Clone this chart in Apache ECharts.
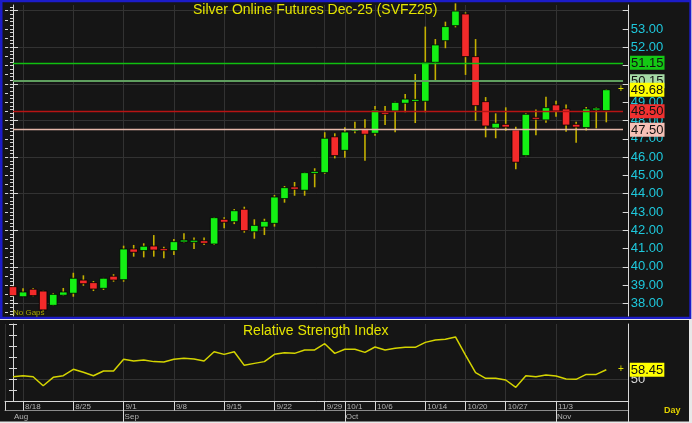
<!DOCTYPE html>
<html><head><meta charset="utf-8">
<script src="https://cdn.jsdelivr.net/npm/echarts@6/dist/echarts.min.js"></script>
<style>html,body{margin:0;padding:0;background:#e8e8e8}#c{width:692px;height:423px}</style>
</head><body><div id="c"></div>
<script>
// ---------- DATA ----------
const dates = ['8/15',
 '8/18','8/19','8/20','8/21','8/22',
 '8/25','8/26','8/27','8/28','8/29',
 '9/1','9/2','9/3','9/4','9/5',
 '9/8','9/9','9/10','9/11','9/12',
 '9/15','9/16','9/17','9/18','9/19',
 '9/22','9/23','9/24','9/25','9/26',
 '9/29','9/30','10/1','10/2','10/3',
 '10/6','10/7','10/8','10/9','10/10',
 '10/14','10/15','10/16','10/17',
 '10/20','10/21','10/22','10/23',
 '10/27','10/28','10/29','10/30','10/31',
 '11/3','11/4','11/5','11/6','11/7',
 '11/10'];
const opens  = [38.92,38.37,38.78,38.68,37.90,38.45,38.56,39.28,39.14,38.83,39.49,39.30,40.98,40.89,41.14,40.99,40.89,41.40,41.38,41.43,41.25,42.60,42.47,43.15,41.92,42.18,42.38,43.73,44.37,44.19,45.13,45.15,47.11,46.37,47.47,47.57,47.30,48.42,48.52,48.94,49.08,49.05,51.18,52.36,53.18,53.82,51.49,49.03,47.59,47.79,47.48,46.08,48.14,48.03,48.85,48.63,47.79,47.61,48.60,48.54];
const highs  = [38.95,38.83,38.85,38.70,38.56,38.85,39.68,39.54,39.23,39.40,39.60,41.16,41.20,41.29,41.74,41.10,41.52,41.84,41.60,41.60,42.73,42.71,43.16,43.29,42.60,42.63,43.93,44.42,44.64,45.18,45.39,47.36,47.30,47.63,47.93,48.07,48.79,48.79,49.02,49.45,50.54,53.13,52.45,53.40,54.40,53.91,52.45,49.28,48.39,48.72,47.66,48.39,48.60,49.30,49.08,48.88,47.93,48.74,48.72,49.72];
const lows   = [38.40,38.35,38.40,37.60,37.88,38.42,38.37,38.97,38.68,38.74,39.19,39.19,40.56,40.52,40.56,40.47,40.65,41.34,40.98,41.20,41.20,42.11,42.34,41.87,41.54,41.74,42.20,43.51,43.89,43.89,44.35,45.08,45.93,45.97,47.30,45.80,47.17,47.75,47.36,48.45,47.86,48.45,50.16,51.95,53.09,50.49,47.99,47.08,47.03,47.44,45.33,46.05,47.20,47.88,48.21,47.39,46.79,47.46,47.57,47.90];
const closes = [38.43,38.63,38.43,37.65,38.50,38.63,39.38,39.08,38.79,39.38,39.28,40.98,40.80,41.13,40.92,40.89,41.38,41.43,41.42,41.29,42.69,42.44,43.07,41.98,42.27,42.49,43.82,44.33,44.24,45.15,45.20,47.03,46.08,47.37,47.50,47.25,48.57,48.37,48.99,49.17,49.12,51.18,52.13,53.13,53.98,51.49,48.81,47.70,47.85,47.64,45.72,48.34,48.10,48.70,48.52,47.75,47.64,48.63,48.65,49.68];
const rsi    = [52.1,53.0,52.1,43.9,51.5,53.0,58.8,56.1,53.0,57.3,57.3,67.9,66.4,67.3,65.8,65.5,67.9,68.8,68.2,66.4,74.8,72.4,74.8,62.4,64.2,65.8,72.4,73.9,73.3,76.4,76.4,82.1,73.3,77.0,77.0,74.2,79.1,76.4,77.9,78.8,78.8,83.3,85.5,86.1,88.2,71.8,55.8,50.6,50.6,49.1,42.4,53.0,52.1,53.6,52.7,50.0,49.7,54.2,54.2,58.45];
const priceLabels = [38,39,40,41,42,43,44,45,46,47,48,49,50,51,52,53];
const priceGridValues = [38,40,42,44,46,48,50,52,54];
const rsiTickValues = [30,40,50,60,70,80,90,100];
const rsiLabels = [50];
const weekLabelDates = ['8/18','8/25','9/1','9/8','9/15','9/22','9/29','10/1','10/6','10/14','10/20','10/27','11/3'];
const monthStartDates = ['8/15','9/1','10/1','11/3'];
const monthNames = ['Aug','Sep','Oct','Nov'];
const levelValues = [51.15, 50.15, 48.50, 47.50];
const lastPrice = 49.68;
const lastRsi = 58.45;

// ---------- STYLE / LAYOUT ----------
const FONT = 'Liberation Sans, Arial, sans-serif';
const XMIN = -0.7955, XMAX = 61.227;
const YMIN = 37.317, YMAX = 54.311;
const levelColors = ['#10c010', '#5f9f5f', '#b81414', '#e6b8aa'];
const levelWidths = [1.4, 2, 1.4, 1.4];
const boxColors = ['#14c814', '#a6dca6', '#f03030', '#f6c0b6'];
const LINE_END = 60.66;

const weekIdx = weekLabelDates.map(d => dates.indexOf(d));
const monthIdx = monthStartDates.map(d => dates.indexOf(d));
const candleData = dates.map((d, i) => [i, opens[i], closes[i], lows[i], highs[i]]);
const rsiData = rsi.map((v, i) => [i, v]);
const minorRight = []; for (let k = 187; k <= 271; k++) minorRight.push(+(k * 0.2).toFixed(1));
const minorLeft = []; for (let k = 75; k <= 108; k++) minorLeft.push(k * 0.5);

const boxRich = (bg) => ({
  p: {color: '#e0e000', fontSize: 10, fontFamily: FONT, padding: [0, 6, 0, 0]},
  b: {backgroundColor: bg, color: '#111', fontSize: 13, fontFamily: FONT, padding: [1, 1, 0, 1], lineHeight: 12}
});

const levelLines = levelValues.map((v, k) => [
  {coord: [0, v], lineStyle: {color: levelColors[k], width: levelWidths[k], type: 'solid'},
   label: {show: true, position: 'end', distance: 7, formatter: '{b|' + v.toFixed(2) + '}', rich: boxRich(boxColors[k])}},
  {coord: [LINE_END, v]}
]);
levelLines.push([
  {coord: [59.9, lastPrice], lineStyle: {color: 'rgba(0,0,0,0)', width: 0},
   label: {show: true, position: 'end', distance: 2, formatter: '{p|+}{b|' + lastPrice.toFixed(2) + '}', rich: boxRich('#ffff00')}},
  {coord: [59.96, lastPrice]}
]);

function renderCandle(params, api) {
  const i = api.value(0), o = api.value(1), c = api.value(2), l = api.value(3), h = api.value(4);
  const pO = api.coord([i, o]), pC = api.coord([i, c]);
  const pL = api.coord([i, l]), pH = api.coord([i, h]);
  const x = pO[0];
  const bw = 7.6;
  let top = Math.min(pO[1], pC[1]), bh = Math.abs(pO[1] - pC[1]);
  if (bh < 2) { top = (pO[1] + pC[1]) / 2 - 1; bh = 2; }
  const up = c >= o;
  return {type: 'group', children: [
    {type: 'line', shape: {x1: x, y1: pH[1], x2: x, y2: pL[1]}, style: {stroke: '#c4b000', lineWidth: 1.6}},
    {type: 'rect', shape: {x: x - bw / 2, y: top, width: bw, height: bh},
     style: {fill: up ? '#14f014' : '#f42a2a', stroke: 'rgba(0,0,0,0.8)', lineWidth: 1}}
  ]};
}

const axisWhite = {show: true, lineStyle: {color: '#d8d8d8', width: 1}};
const gridCol = '#323232';
const hiddenX = (g) => ({gridIndex: g, type: 'value', min: XMIN, max: XMAX, show: false});

const option = {
  backgroundColor: '#e8e8e8',
  animation: false,
  graphic: {elements: [
    {type: 'rect', z: -100, silent: true, shape: {x: 0, y: 0, width: 691.3, height: 319}, style: {fill: '#1c1cc8'}},
    {type: 'rect', z: -99, silent: true, shape: {x: 2.5, y: 2.3, width: 686.8, height: 314.4}, style: {fill: '#151515'}},
    {type: 'rect', z: -99, silent: true, shape: {x: 0, y: 320, width: 689, height: 101.5}, style: {fill: '#151515'}}
  ]},
  title: [
    {text: 'Silver Online Futures Dec-25 (SVFZ25)', left: 193, top: 3, padding: 0,
     textStyle: {color: '#e4e400', fontSize: 14, fontWeight: 'normal', fontFamily: FONT}},
    {text: 'Relative Strength Index', left: 243, top: 324, padding: 0,
     textStyle: {color: '#e4e400', fontSize: 14, fontWeight: 'normal', fontFamily: FONT}},
    {text: 'No Gaps', left: 13, top: 309, padding: 0,
     textStyle: {color: '#a8a800', fontSize: 8, fontWeight: 'normal', fontFamily: FONT}},
    {text: 'Day', left: 664, top: 406, padding: 0,
     textStyle: {color: '#e0d000', fontSize: 9, fontWeight: 'bold', fontFamily: FONT}}
  ],
  grid: [
    {left: 5, top: 5, width: 623.7, height: 311, outerBoundsMode: 'none'},
    {left: 5, top: 324, width: 623.7, height: 77, outerBoundsMode: 'none'},
    {left: 5, top: 324, width: 623.7, height: 77, outerBoundsMode: 'none'},
    {left: 5, top: 324, width: 623.7, height: 77, outerBoundsMode: 'none'},
    {left: 5, top: 5, width: 623.7, height: 311, outerBoundsMode: 'none'}
  ],
  xAxis: [
    {gridIndex: 0, type: 'value', min: XMIN, max: XMAX, axisLine: {show: false}, axisLabel: {show: false},
     axisTick: {show: false, customValues: weekIdx}, splitLine: {show: true, lineStyle: {color: gridCol, width: 1}}},
    {gridIndex: 1, type: 'value', min: XMIN, max: XMAX, position: 'bottom', axisLine: axisWhite,
     axisTick: {show: true, inside: false, length: 9.5, customValues: [XMIN].concat(weekIdx), lineStyle: {color: '#d8d8d8'}},
     axisLabel: {show: true, customValues: weekIdx, formatter: v => dates[Math.round(v)], align: 'left',
       padding: [0, 0, 0, 2], margin: 2, color: '#b4b4b4', fontSize: 8, fontFamily: FONT},
     splitLine: {show: true, lineStyle: {color: gridCol, width: 1}}},
    {gridIndex: 2, type: 'value', min: XMIN, max: XMAX, position: 'bottom', axisLine: {show: false},
     axisTick: {show: true, inside: false, length: 21, customValues: monthIdx.slice(1).concat([XMAX]), lineStyle: {color: '#d8d8d8'}},
     axisLabel: {show: true, customValues: monthIdx, formatter: v => monthNames[monthIdx.indexOf(Math.round(v))],
       align: 'left', padding: [0, 0, 0, 1], margin: 12, color: '#b4b4b4', fontSize: 8, fontFamily: FONT},
     splitLine: {show: false}},
    {gridIndex: 3, type: 'value', min: XMIN, max: XMAX, position: 'bottom', offset: 9.5,
     axisLine: {show: true, lineStyle: {color: '#8c8c8c', width: 1}}, axisTick: {show: false}, axisLabel: {show: false}, splitLine: {show: false}},
    hiddenX(4)
  ],
  yAxis: [
    {gridIndex: 0, type: 'value', position: 'left', min: YMIN, max: YMAX, axisLine: axisWhite,
     axisTick: {show: true, inside: true, length: 5, customValues: priceGridValues, lineStyle: {color: '#d8d8d8'}},
     axisLabel: {show: false}, splitLine: {show: true, lineStyle: {color: gridCol, width: 1}}},
    {gridIndex: 0, type: 'value', position: 'right', min: YMIN, max: YMAX, axisLine: axisWhite,
     axisTick: {show: true, inside: true, length: 6, customValues: priceLabels.concat([54]), lineStyle: {color: '#d8d8d8'}},
     axisLabel: {show: true, customValues: priceLabels, formatter: v => v.toFixed(2), color: '#1ec8dc',
       fontSize: 13, fontFamily: FONT, margin: 2},
     splitLine: {show: false}},
    {gridIndex: 1, type: 'value', position: 'left', min: 30, max: 100, axisLine: axisWhite,
     axisTick: {show: true, inside: true, length: 4, customValues: rsiTickValues, lineStyle: {color: '#d8d8d8'}},
     axisLabel: {show: false}, splitLine: {show: false}},
    {gridIndex: 1, type: 'value', position: 'right', min: 30, max: 100, axisLine: axisWhite,
     axisTick: {show: false, customValues: rsiLabels},
     axisLabel: {show: true, customValues: rsiLabels, color: '#d8d8d8', fontSize: 13, fontFamily: FONT, margin: 2},
     splitLine: {show: true, lineStyle: {color: gridCol, width: 1}}},
    {gridIndex: 2, type: 'value', position: 'right', min: 30, max: 100, axisLine: {show: false},
     axisTick: {show: true, inside: true, length: 4, customValues: rsiTickValues, lineStyle: {color: '#d8d8d8'}},
     axisLabel: {show: false}, splitLine: {show: false}},
    {gridIndex: 3, type: 'value', min: 30, max: 100, show: false},
    {gridIndex: 4, type: 'value', position: 'right', min: YMIN, max: YMAX, axisLine: {show: false},
     axisTick: {show: true, inside: true, length: 3, customValues: minorRight, lineStyle: {color: '#d8d8d8'}},
     axisLabel: {show: false}, splitLine: {show: false}},
    {gridIndex: 4, type: 'value', position: 'left', min: YMIN, max: YMAX, axisLine: {show: false},
     axisTick: {show: true, inside: true, length: 3, customValues: minorLeft, lineStyle: {color: '#d8d8d8'}},
     axisLabel: {show: false}, splitLine: {show: false}}
  ],
  series: [
    {type: 'custom', name: 'SVFZ25', xAxisIndex: 0, yAxisIndex: 0, data: candleData,
     encode: {x: 0, y: [1, 2, 3, 4]}, renderItem: renderCandle, clip: false, z: 3,
     markLine: {silent: true, symbol: 'none', animation: false, data: levelLines}},
    {type: 'line', name: 'RSI', xAxisIndex: 1, yAxisIndex: 2, data: rsiData, showSymbol: false, clip: false,
     lineStyle: {color: '#d4d400', width: 1.5}, z: 3,
     markLine: {silent: true, symbol: 'none', animation: false, data: [[
       {coord: [59.9, lastRsi], lineStyle: {color: 'rgba(0,0,0,0)', width: 0},
        label: {show: true, position: 'end', distance: 2, formatter: '{p|+}{b|' + lastRsi.toFixed(2) + '}', rich: boxRich('#ffff00')}},
       {coord: [59.96, lastRsi]}
     ]]}}
  ]
};
const chart = echarts.init(document.getElementById('c'), null, {renderer: 'canvas'});
chart.setOption(option);
</script></body></html>
